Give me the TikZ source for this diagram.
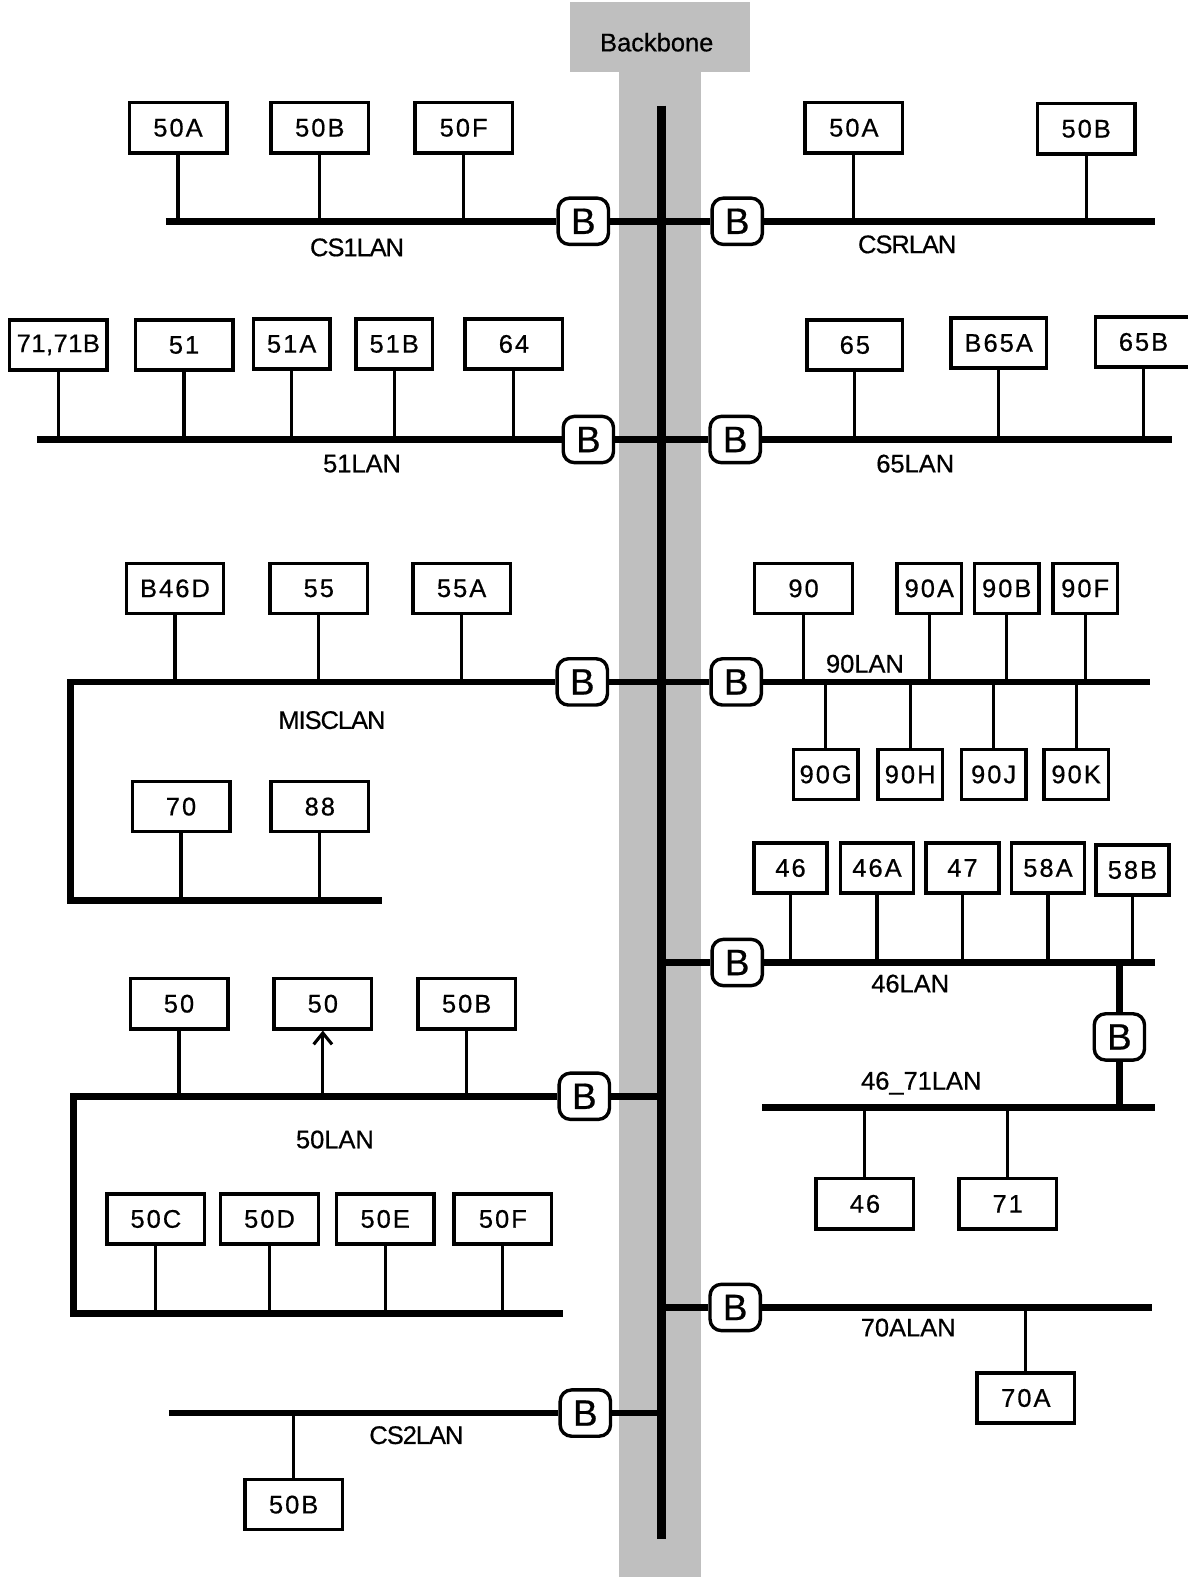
\documentclass[tikz,border=0pt]{standalone}
\usepackage{fontspec}
\setmainfont[FakeBold=0.6]{Liberation Sans}
\newfontfamily\hostfont[LetterSpace=8, FakeBold=0.6]{Liberation Sans}
\newfontfamily\tightfont[LetterSpace=-4, FakeBold=0.6]{Liberation Sans}
\usetikzlibrary{arrows.meta}

\begin{document}
\begin{tikzpicture}[x=0.025cm, y=-0.025cm,
    every node/.style={font=\fontsize{18}{20}\selectfont},
    host/.style={draw, line width=2.4pt, minimum width=#1, minimum height=1.25cm, inner sep=0pt, font=\hostfont\fontsize{18}{20}\selectfont},
    host/.default=2.425cm,
    bridge/.style={draw, line width=2.4pt, rounded corners=0.28cm, fill=white, minimum width=1.25cm, minimum height=1.15cm, inner sep=0pt, font=\fontsize{26}{26}\selectfont},
    lan/.style={font=\tightfont\fontsize{18}{20}\selectfont},
    bus/.style={line width=4.8pt},
    drop/.style={line width=2.2pt},
    backbone/.style={line width=6.5pt}]
        \useasboundingbox (0,0) rectangle (1181,1568);

        \fill[black!25] (567,2) rectangle (746,72);
        \fill[black!25] (615,72) rectangle (697,1568);
        \node (bbname) at (653,42) {Backbone};
        \coordinate (bbtop) at (658,105);
        \coordinate (bbbot) at (658,1530);
        \draw[backbone] (bbtop) -- (bbbot);

        \node[bridge] (bcs1) at (580,220) {B};
        \coordinate (cs1w) at (165,220);
        \draw[bus] (cs1w) -- (bcs1.west);
        \draw[bus] (bcs1.east) -- (bcs1.east -| bbtop);
        \node[host] (cs1a) at (177,127) {50A};
        \node[host] (cs1b) at (318,127) {50B};
        \node[host] (cs1f) at (461,127) {50F};
        \foreach \h in {cs1a,cs1b,cs1f}
            \draw[drop] (\h.south) -- (\h.south |- cs1w);
        \node[lan] at (355,246) {CS1LAN};

        \node[bridge] (bcsr) at (733,220) {B};
        \coordinate (csre) at (1148,220);
        \draw[bus] (bcsr.east) -- (csre);
        \draw[bus] (bcsr.west) -- (bcsr.west -| bbtop);
        \node[host] (csra) at (849,127) {50A};
        \node[host] (csrb) at (1080,128) {50B};
        \foreach \h in {csra,csrb}
            \draw[drop] (\h.south) -- (\h.south |- csre);
        \node[lan] at (902,243) {CSRLAN};

        \node[bridge] (b51) at (585,437) {B};
        \coordinate (l51w) at (37,437);
        \draw[bus] (l51w) -- (b51.west);
        \draw[bus] (b51.east) -- (b51.east -| bbtop);
        \node[host] (h71) at (58,343) {\addfontfeatures{LetterSpace=2}71,71B};
        \node[host] (h51) at (183,343) {51};
        \node[host=1.9cm] (h51a) at (290,342) {51A};
        \node[host=1.9cm] (h51b) at (392,342) {51B};
        \node[host] (h64) at (511,342) {64};
        \foreach \h in {h71,h51,h51a,h51b,h64}
            \draw[drop] (\h.south) -- (\h.south |- l51w);
        \node at (360,461) {51LAN};

        \node[bridge] (b65) at (731,437) {B};
        \coordinate (l65e) at (1165,437);
        \draw[bus] (b65.east) -- (l65e);
        \draw[bus] (b65.west) -- (b65.west -| bbtop);
        \node[host=2.375cm] (h65) at (850,343) {65};
        \node[host=2.375cm] (h65a) at (993,341) {B65A};
        \node[host=2.375cm] (h65b) at (1137,340) {65B};
        \foreach \h in {h65,h65a,h65b}
            \draw[drop] (\h.south) -- (\h.south |- l65e);
        \node at (910,461) {65LAN};

        \node[bridge] (bmisc) at (579,678) {B};
        \coordinate (miscnw) at (70,678);
        \coordinate (miscsw) at (70,895);
        \coordinate (miscse) at (380,895);
        \draw[bus] (bmisc.west) -- (miscnw) -- (miscsw) -- (miscse);
        \draw[bus] (bmisc.east) -- (bmisc.east -| bbtop);
        \node[host] (h46d) at (174,585) {B46D};
        \node[host] (h55) at (317,585) {55};
        \node[host] (h55a) at (459,585) {55A};
        \foreach \h in {h46d,h55,h55a}
            \draw[drop] (\h.south) -- (\h.south |- miscnw);
        \node[host] (h70) at (180,802) {70};
        \node[host] (h88) at (318,802) {88};
        \foreach \h in {h70,h88}
            \draw[drop] (\h.south) -- (\h.south |- miscsw);
        \node[lan] at (330,716) {MISCLAN};

        \node[bridge] (b90) at (732,678) {B};
        \coordinate (l90e) at (1143,678);
        \draw[bus] (b90.east) -- (l90e);
        \draw[bus] (b90.west) -- (b90.west -| bbtop);
        \node[host] (h90) at (799,585) {90};
        \node[host=1.6cm] (h90a) at (924,585) {90A};
        \node[host=1.6cm] (h90b) at (1001,585) {90B};
        \node[host=1.6cm] (h90f) at (1079,585) {90F};
        \foreach \h in {h90,h90a,h90b,h90f}
            \draw[drop] (\h.south) -- (\h.south |- l90e);
        \node[host=1.6cm] (h90g) at (821,770) {90G};
        \node[host=1.6cm] (h90h) at (905,770) {90H};
        \node[host=1.6cm] (h90j) at (988,770) {90J};
        \node[host=1.6cm] (h90k) at (1070,770) {90K};
        \foreach \h in {h90g,h90h,h90j,h90k}
            \draw[drop] (\h.north) -- (\h.north |- l90e);
        \node at (860,660) {90LAN};

        \node[bridge] (b46) at (733,957) {B};
        \coordinate (l46e) at (1148,957);
        \draw[bus] (b46.east) -- (l46e);
        \draw[bus] (b46.west) -- (b46.west -| bbtop);
        \node[host=1.82cm] (h46) at (786,863) {46};
        \node[host=1.82cm] (h46a) at (872,863) {46A};
        \node[host=1.82cm] (h47) at (957,863) {47};
        \node[host=1.82cm] (h58a) at (1042,863) {58A};
        \node[host=1.82cm] (h58b) at (1126,865) {58B};
        \foreach \h in {h46,h46a,h47,h58a,h58b}
            \draw[drop] (\h.south) -- (\h.south |- l46e);
        \node at (905,978) {46LAN};

        \coordinate (j46) at (1113,957);
        \node[bridge] (b4671) at (1113,1031) {B};
        \coordinate (l4671w) at (758,1101);
        \coordinate (l4671e) at (1148,1101);
        \draw[bus] (l4671w) -- (l4671e);
        \draw[bus] (j46) -- (b4671.north);
        \draw[bus] (b4671.south) -- (b4671.south |- l4671w);
        \node[host] (h4671a) at (860,1197) {46};
        \node[host] (h4671b) at (1002,1197) {71};
        \foreach \h in {h4671a,h4671b}
            \draw[drop] (\h.north) -- (\h.north |- l4671w);
        \node at (916,1077) {46\_71LAN};

        \node[bridge] (b50) at (581,1090) {B};
        \coordinate (l50nw) at (73,1090);
        \coordinate (l50sw) at (73,1306);
        \coordinate (l50se) at (560,1306);
        \draw[bus] (b50.west) -- (l50nw) -- (l50sw) -- (l50se);
        \draw[bus] (b50.east) -- (b50.east -| bbtop);
        \node[host] (h50) at (178,998) {50};
        \node[host] (h50x) at (321,998) {50};
        \node[host] (h50b) at (464,998) {50B};
        \foreach \h in {h50,h50b}
            \draw[drop] (\h.south) -- (\h.south |- l50nw);
        \draw[drop, -{Straight Barb[length=8pt, width=13pt]}] (h50x.south |- l50nw) -- (h50x.south);
        \node[host] (h50c) at (155,1212) {50C};
        \node[host] (h50d) at (268,1212) {50D};
        \node[host] (h50e) at (383,1212) {50E};
        \node[host] (h50f) at (500,1212) {50F};
        \foreach \h in {h50c,h50d,h50e,h50f}
            \draw[drop] (\h.south) -- (\h.south |- l50sw);
        \node at (333,1133) {50LAN};

        \node[bridge] (b70a) at (731,1300) {B};
        \coordinate (l70ae) at (1145,1300);
        \draw[bus] (b70a.east) -- (l70ae);
        \draw[bus] (b70a.west) -- (b70a.west -| bbtop);
        \node[host] (h70a) at (1020,1390) {70A};
        \draw[drop] (h70a.north) -- (h70a.north |- l70ae);
        \node at (903,1320) {70ALAN};

        \node[bridge] (bcs2) at (582,1405) {B};
        \coordinate (cs2w) at (168,1405);
        \draw[bus] (cs2w) -- (bcs2.west);
        \draw[bus] (bcs2.east) -- (bcs2.east -| bbtop);
        \node[host] (cs2b) at (292,1496) {50B};
        \draw[drop] (cs2b.north) -- (cs2b.north |- cs2w);
        \node[lan] at (414,1427) {CS2LAN};
    \end{tikzpicture}
\end{document}
